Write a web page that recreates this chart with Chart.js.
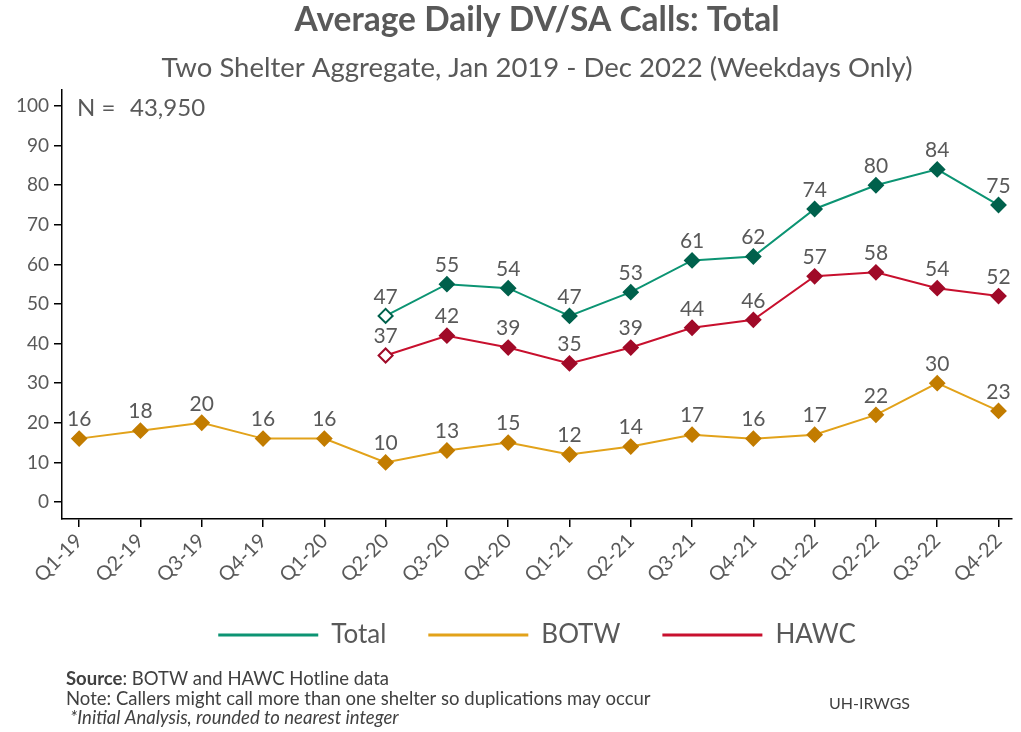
<!DOCTYPE html>
<html>
<head>
<meta charset="utf-8">
<script src="https://cdn.jsdelivr.net/npm/chart.js@4/dist/chart.umd.min.js"></script>
<style>
  html, body { margin: 0; padding: 0; background: #fff; }
  #wrap { width: 1021px; height: 732px; }
</style>
</head>
<body>
<div id="wrap"><canvas id="calls" width="1021" height="732"></canvas></div>
<script>
// quarters on the x axis
const quarters = ['Q1-19','Q2-19','Q3-19','Q4-19','Q1-20','Q2-20','Q3-20','Q4-20',
                  'Q1-21','Q2-21','Q3-21','Q4-21','Q1-22','Q2-22','Q3-22','Q4-22'];

// average daily calls per shelter
const totalCalls = [null,null,null,null,null,47,55,54,47,53,61,62,74,80,84,75];
const botwCalls  = [16,18,20,16,16,10,13,15,12,14,17,16,17,22,30,23];
const hawcCalls  = [null,null,null,null,null,37,42,39,35,39,44,46,57,58,54,52];

// first quarter of the two-shelter series, drawn hollow
const hollowQuarters = ['Q2-20'];

const yTicks = [0,10,20,30,40,50,60,70,80,90,100];
const totalN = '43,950';

const greyText = '#595959';
const fontName = 'Lato, "Open Sans", sans-serif';

function toPoints(values) {
  return values.map((v, i) => ({ x: i, y: v }));
}

function makeSeries(label, values, lineColor, markColor, hollow) {
  return {
    label: label,
    data: toPoints(values),
    borderColor: lineColor,
    borderWidth: 2,
    pointStyle: 'rectRot',
    pointRadius: 7,
    pointHoverRadius: 7,
    pointBorderWidth: 2,
    pointBorderColor: markColor,
    pointBackgroundColor: function(ctx) {
      return (hollow && hollowQuarters.includes(quarters[ctx.dataIndex])) ? '#ffffff' : markColor;
    },
    spanGaps: false,
    fill: false,
    tension: 0
  };
}

// numbers above every marker
const valueLabels = {
  id: 'valueLabels',
  afterDatasetsDraw(chart) {
    const ctx = chart.ctx;
    ctx.save();
    ctx.font = '21px ' + fontName;
    ctx.fillStyle = greyText;
    ctx.textAlign = 'center';
    ctx.textBaseline = 'middle';
    chart.data.datasets.forEach((ds, di) => {
      const meta = chart.getDatasetMeta(di);
      meta.data.forEach((pt, i) => {
        const v = ds.data[i].y;
        if (v === null) return;
        ctx.fillText(String(v), pt.x, pt.y - 19);
      });
    });
    ctx.restore();
  }
};

// N count and footer notes
const extraText = {
  id: 'extraText',
  afterDraw(chart) {
    const ctx = chart.ctx;
    const area = chart.chartArea;
    ctx.save();
    ctx.fillStyle = greyText;
    ctx.textBaseline = 'middle';
    ctx.textAlign = 'left';
    ctx.font = '24px ' + fontName;
    ctx.fillText('N =', area.left + 15, 108);
    ctx.fillText(totalN, area.left + 68, 108);

    ctx.fillStyle = '#404040';
    ctx.font = 'bold 18.5px ' + fontName;
    ctx.fillText('Source', 66, 679);
    const w = ctx.measureText('Source').width;
    ctx.font = '18.5px ' + fontName;
    ctx.fillText(': BOTW and HAWC Hotline data', 66 + w, 679);
    ctx.fillText('Note: Callers might call more than one shelter so duplications may occur', 66, 699);
    ctx.font = 'italic 18.5px ' + fontName;
    ctx.fillText('*Initial Analysis, rounded to nearest integer', 70, 718);
    ctx.font = '16px ' + fontName;
    ctx.fillText('UH-IRWGS', 829, 704);
    ctx.restore();
  }
};

new Chart(document.getElementById('calls').getContext('2d'), {
  type: 'line',
  data: {
    datasets: [
      makeSeries('Total', totalCalls, '#0c9473', '#00614c', true),
      makeSeries('BOTW', botwCalls, '#e2a21a', '#c27c00', false),
      makeSeries('HAWC', hawcCalls, '#c8102e', '#a00a28', true)
    ]
  },
  options: {
    responsive: false,
    animation: false,
    layout: { padding: { left: 0, right: 3, top: 0, bottom: 74 } },
    plugins: {
      title: {
        display: true,
        fullSize: false,
        text: 'Average Daily DV/SA Calls: Total',
        color: greyText,
        font: { family: fontName, size: 33.5, weight: 'bold' },
        padding: { top: 0, bottom: 11 }
      },
      subtitle: {
        display: true,
        fullSize: false,
        text: 'Two Shelter Aggregate, Jan 2019 - Dec 2022 (Weekdays Only)',
        color: greyText,
        font: { family: fontName, size: 27.5 },
        padding: { top: 0, bottom: 6 }
      },
      legend: {
        position: 'bottom',
        fullSize: false,
        labels: {
          color: greyText,
          font: { family: fontName, size: 26 },
          boxWidth: 100,
          boxHeight: 3,
          padding: 42,
          generateLabels: function(chart) {
            return chart.data.datasets.map((ds, i) => ({
              text: ds.label,
              fillStyle: ds.borderColor,
              strokeStyle: ds.borderColor,
              lineWidth: 0,
              fontColor: greyText,
              datasetIndex: i
            }));
          }
        }
      },
      tooltip: { enabled: false }
    },
    scales: {
      x: {
        type: 'linear',
        min: -0.28,
        max: 15.22,
        afterBuildTicks: function(scale) {
          scale.ticks = quarters.map((q, i) => ({ value: i }));
        },
        afterFit: function(scale) { scale.height = 61; },
        ticks: {
          autoSkip: false,
          minRotation: 45,
          maxRotation: 45,
          color: greyText,
          font: { family: fontName, size: 20 },
          padding: 2,
          callback: function(value) { return quarters[value]; }
        },
        grid: { display: true, drawOnChartArea: false, drawTicks: true, tickLength: 8, color: '#000', lineWidth: 1.5 },
        border: { display: true, color: '#000', width: 1.5 }
      },
      y: {
        min: -4.3,
        max: 104,
        afterBuildTicks: function(scale) {
          scale.ticks = yTicks.map(v => ({ value: v }));
        },
        afterFit: function(scale) { scale.width = 62; },
        ticks: {
          color: greyText,
          font: { family: fontName, size: 19 },
          padding: 5
        },
        grid: { display: true, drawOnChartArea: false, drawTicks: true, tickLength: 8, color: '#000', lineWidth: 1.5 },
        border: { display: true, color: '#000', width: 1.5 }
      }
    }
  },
  plugins: [valueLabels, extraText]
});
</script>
</body>
</html>
